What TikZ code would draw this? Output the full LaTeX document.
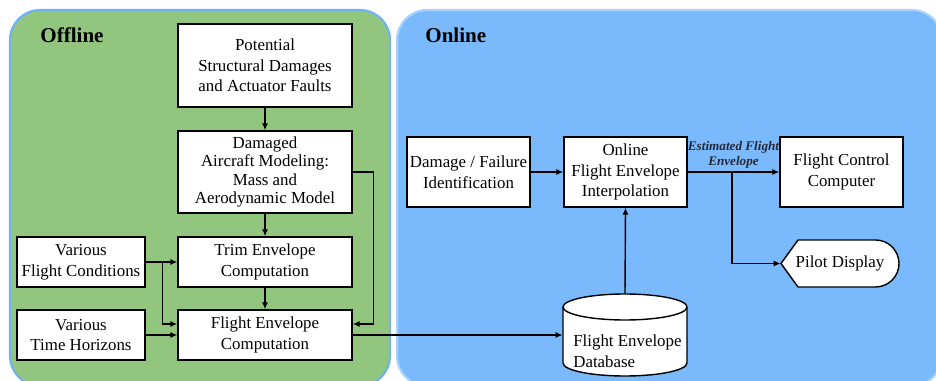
\documentclass[tikz,border=0pt]{standalone}
\usepackage{fontspec}
\setmainfont{Liberation Serif}
\usetikzlibrary{arrows.meta,calc}
\definecolor{offgreen}{RGB}{146,198,126}
\definecolor{onblue}{RGB}{122,186,252}
\definecolor{rimblue}{RGB}{112,178,246}
\definecolor{rimpale}{RGB}{170,210,252}
\definecolor{labelgray}{RGB}{40,40,55}
\begin{document}
\begin{tikzpicture}
        [
        x=0.02cm, y=-0.02cm,
        every node/.style={font=\fontsize{9.6}{11.8}\selectfont},
        box/.style={draw, thick, fill=white, align=center, inner sep=1pt},
        wide/.style={box, minimum width=3.48cm, minimum height=1cm},
        small/.style={box, minimum width=2.56cm, minimum height=1cm},
        online/.style={box, minimum width=2.46cm, minimum height=1.4cm},
        panel/.style={rounded corners=0.6cm, line width=1.2pt},
        title/.style={anchor=west, inner sep=0pt, font=\fontsize{12}{14}\selectfont\bfseries},
        arr/.style={thick, -{Latex[length=4pt,width=3.5pt]}},
        ]
        \clip (0,0) rectangle (936,381);
        % panels
        \draw[panel, fill=offgreen, draw=rimblue] (10,10) rectangle (390,386);
        \draw[panel, fill=onblue, draw=rimpale] (397,10) rectangle (942,386);
        \node[title] (offline) at (40,35) {Offline};
        \node[title] (online) at (425,35) {Online};

        % offline part
        \node[wide, minimum height=1.66cm] (pot) at (265,65.5)
            {Potential\\Structural Damages\\and Actuator Faults};
        \node[wide, minimum height=1.64cm, font=\fontsize{9.6}{10.5}\selectfont] (dam) at (265,172)
            {Damaged\\Aircraft Modeling:\\Mass and\\Aerodynamic Model};
        \node[wide] (trim) at (265,262) {Trim Envelope\\Computation};
        \node[wide] (fec) at (265,335) {Flight Envelope\\Computation};
        \node[small] (vfc) at (81,262) {Various\\Flight Conditions};
        \node[small] (vth) at (81,335) {Various\\Time Horizons};

        \draw[arr] (pot) -- (dam);
        \draw[arr] (dam) -- (trim);
        \draw[arr] (trim) -- (fec);
        \draw[arr] (dam.east) -- ++(21,0) |- ($(fec.east)+(0,-11)$);
        \draw[arr] (vfc) -- (trim);
        \draw[arr] ($(vfc.east)+(17,0)$) |- ($(fec.west)+(0,-11)$);
        \draw[arr] (vth) -- (fec);

        % online part
        \node[online] (dfi) at (468.5,172) {Damage / Failure\\Identification};
        \node[online] (ofei) at (625.5,172) {Online\\Flight Envelope\\Interpolation};
        \node[online] (fcc) at (841.5,172) {Flight Control\\Computer};

        % pilot display outline
        \draw[thick, fill=white] (798,240) -- (875.5,240)
            arc[start angle=90, end angle=-90, radius=0.47cm] -- (798,287) -- (781,263.5) -- cycle;
        \node[minimum width=2.36cm, minimum height=0.94cm, inner sep=0pt] (pd) at (840,263.5) {Pilot Display};

        % database cylinder
        \draw[thick, fill=white] (563,307) -- (563,363)
            arc[start angle=180, end angle=360, x radius=1.24cm, y radius=0.26cm] -- (687,307)
            arc[start angle=0, end angle=180, x radius=1.24cm, y radius=0.26cm] -- cycle;
        \draw[thick] (563,307) arc[start angle=180, end angle=360, x radius=1.24cm, y radius=0.26cm];
        \node[minimum width=2.48cm, minimum height=1.64cm, inner sep=0pt] (db) at (625,335) {};
        \node[anchor=west, align=left, inner sep=0pt] (dbtext) at (573,351) {Flight Envelope\\Database};

        \coordinate (split) at (732,172);
        \draw[arr] (dfi) -- (ofei);
        \draw[arr] (ofei) -- node[midway, above, inner sep=1.5pt, text=labelgray,
            font=\fontsize{7.5}{8.5}\selectfont\bfseries\itshape, align=center] (est)
            {Estimated Flight\\Envelope} (fcc);
        \draw[arr] (split) |- (pd.west);
        \draw[arr] (db.north) -- (ofei.south);
        \draw[arr] (fec.east) -- (db.west);
\end{tikzpicture}
\end{document}
